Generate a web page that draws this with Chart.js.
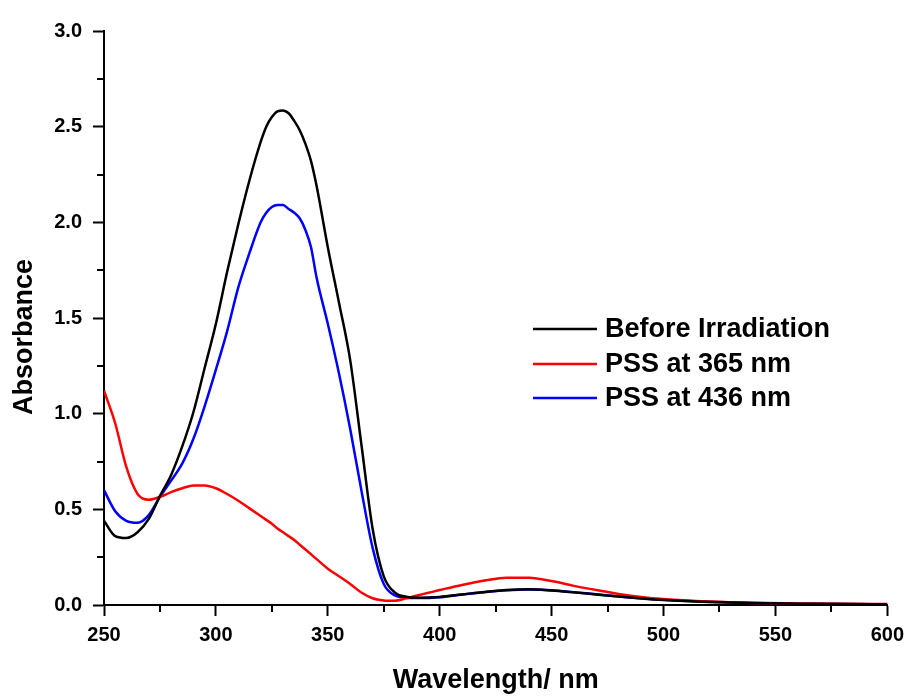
<!DOCTYPE html>
<html>
<head>
<meta charset="utf-8">
<script src="https://cdn.jsdelivr.net/npm/chart.js@4/dist/chart.umd.min.js"></script>
<style>
  html, body { margin: 0; padding: 0; background: #fff; }
  #wrap { width: 911px; height: 697px; }
</style>
</head>
<body>
<div id="wrap"><canvas id="c" width="911" height="697"></canvas></div>
<script>
// UV-Vis absorption spectra (wavelength in nm, absorbance)
const wavelengths = [
  250, 255, 260, 265, 270, 275, 280, 285, 290, 295,
  300, 305, 310, 315, 320, 322.5, 325, 327.5, 330, 332.5,
  335, 337.5, 340, 342.5, 345,
  350, 355, 360, 365, 370, 375, 380, 385, 390, 395,
  400, 410, 420, 430, 440, 450, 460, 470, 480, 490,
  500, 520, 540, 560, 580, 600
];
const beforeIrradiation = [
  0.44, 0.36, 0.35, 0.38, 0.45, 0.57, 0.68, 0.83, 1.01, 1.24,
  1.47, 1.74, 1.99, 2.22, 2.42, 2.50, 2.55, 2.58, 2.585, 2.57,
  2.53, 2.48, 2.41, 2.32, 2.19,
  1.87, 1.58, 1.28, 0.84, 0.40, 0.15, 0.065, 0.043, 0.038, 0.039,
  0.042, 0.055, 0.068, 0.078, 0.082, 0.076, 0.066, 0.055, 0.044, 0.034,
  0.026, 0.016, 0.010, 0.007, 0.005, 0.004
];
const pss365 = [
  1.12, 0.95, 0.72, 0.58, 0.55, 0.565, 0.59, 0.61, 0.625, 0.625,
  0.61, 0.58, 0.545, 0.505, 0.465, 0.445, 0.425, 0.40, 0.38, 0.36,
  0.34, 0.315, 0.29, 0.265, 0.24,
  0.19, 0.15, 0.11, 0.065, 0.035, 0.024, 0.022, 0.035, 0.05, 0.064,
  0.078, 0.105, 0.128, 0.143, 0.142, 0.125, 0.100, 0.078, 0.058, 0.042,
  0.031, 0.018, 0.011, 0.008, 0.006, 0.005
];
const pss436 = [
  0.60, 0.49, 0.44, 0.43, 0.47, 0.565, 0.65, 0.74, 0.87, 1.04,
  1.23, 1.43, 1.66, 1.84, 2.00, 2.05, 2.08, 2.09, 2.09, 2.07,
  2.05, 2.02, 1.96, 1.87, 1.71,
  1.47, 1.21, 0.92, 0.60, 0.30, 0.11, 0.05, 0.038, 0.036, 0.037,
  0.040, 0.055, 0.067, 0.077, 0.081, 0.077, 0.067, 0.056, 0.045, 0.035,
  0.027, 0.017, 0.011, 0.007, 0.005, 0.004
];
const seriesLabels = ['Before Irradiation', 'PSS at 365 nm', 'PSS at 436 nm'];
const seriesColors = ['#000000', '#ff0000', '#0000ff'];
const xMinorTicks = [275, 325, 375, 425, 475, 525, 575];
const yMinorTicks = [0.25, 0.75, 1.25, 1.75, 2.25, 2.75];
const yTitle = 'Absorbance';

const FONT = '"Liberation Sans", Arial, sans-serif';

function pts(values) {
  return wavelengths.map((w, i) => ({ x: w, y: values[i] }));
}

// short outward ticks between the labelled ones
const minorTicks = {
  id: 'minorTicks',
  afterDraw(chart) {
    const { ctx, scales: { x, y } } = chart;
    ctx.save();
    ctx.strokeStyle = '#000';
    ctx.lineWidth = 2;
    ctx.beginPath();
    xMinorTicks.forEach(v => {
      const px = Math.round(x.getPixelForValue(v));
      ctx.moveTo(px, x.top);
      ctx.lineTo(px, x.top + 7);
    });
    yMinorTicks.forEach(v => {
      const py = Math.round(y.getPixelForValue(v));
      ctx.moveTo(y.right, py);
      ctx.lineTo(y.right - 7, py);
    });
    ctx.stroke();
    ctx.restore();
  }
};

// rotated y-axis title, set a little below the axis midpoint
const yAxisTitle = {
  id: 'yAxisTitle',
  afterDraw(chart) {
    const { ctx } = chart;
    ctx.save();
    ctx.translate(25, 337);
    ctx.rotate(-Math.PI / 2);
    ctx.font = 'bold 27px ' + FONT;
    ctx.fillStyle = '#000';
    ctx.textAlign = 'center';
    ctx.textBaseline = 'middle';
    ctx.fillText(yTitle, 0, 0);
    ctx.restore();
  }
};

// legend drawn inside the plot area
const innerLegend = {
  id: 'innerLegend',
  afterDraw(chart) {
    const { ctx } = chart;
    const x0 = 533, x1 = 597, tx = 605;
    const rows = [329, 364, 398];
    ctx.save();
    ctx.font = 'bold 27px ' + FONT;
    ctx.textBaseline = 'middle';
    ctx.textAlign = 'left';
    chart.data.datasets.forEach((ds, i) => {
      ctx.strokeStyle = ds.borderColor;
      ctx.lineWidth = 2.5;
      ctx.beginPath();
      ctx.moveTo(x0, rows[i]);
      ctx.lineTo(x1, rows[i]);
      ctx.stroke();
      ctx.fillStyle = '#000';
      ctx.fillText(ds.label, tx, rows[i] + 1);
    });
    ctx.restore();
  }
};

new Chart(document.getElementById('c'), {
  type: 'line',
  data: {
    datasets: [beforeIrradiation, pss365, pss436].map((vals, i) => ({
      label: seriesLabels[i],
      data: pts(vals),
      borderColor: seriesColors[i],
      backgroundColor: seriesColors[i],
      borderWidth: 2.5,
      pointRadius: 0,
      cubicInterpolationMode: 'monotone',
      fill: false
    }))
  },
  options: {
    responsive: false,
    animation: false,
    events: [],
    layout: { padding: { top: 31, right: 23, left: 0, bottom: 0 } },
    plugins: { legend: { display: false }, tooltip: { enabled: false } },
    scales: {
      x: {
        type: 'linear',
        min: 250, max: 600,
        afterFit(s) { s.height = 92; },
        border: { display: true, color: '#000', width: 2 },
        grid: { drawOnChartArea: false, drawTicks: true, tickLength: 11, tickColor: '#000', tickWidth: 2 },
        ticks: {
          stepSize: 50,
          padding: 7,
          color: '#000',
          font: { family: FONT, size: 20, weight: 'bold' },
          callback: v => String(v)
        },
        title: {
          display: true,
          text: 'Wavelength/ nm',
          color: '#000',
          padding: { top: 0, bottom: 0 },
          font: { family: FONT, size: 27, weight: 'bold' }
        }
      },
      y: {
        type: 'linear',
        min: 0, max: 3,
        afterFit(s) { s.width = 104; },
        border: { display: true, color: '#000', width: 2 },
        grid: { drawOnChartArea: false, drawTicks: true, tickLength: 11, tickColor: '#000', tickWidth: 2 },
        ticks: {
          stepSize: 0.5,
          padding: 11,
          color: '#000',
          font: { family: FONT, size: 20, weight: 'bold' },
          callback: v => Number(v).toFixed(1)
        }
      }
    }
  },
  plugins: [minorTicks, yAxisTitle, innerLegend]
});
</script>
</body>
</html>
